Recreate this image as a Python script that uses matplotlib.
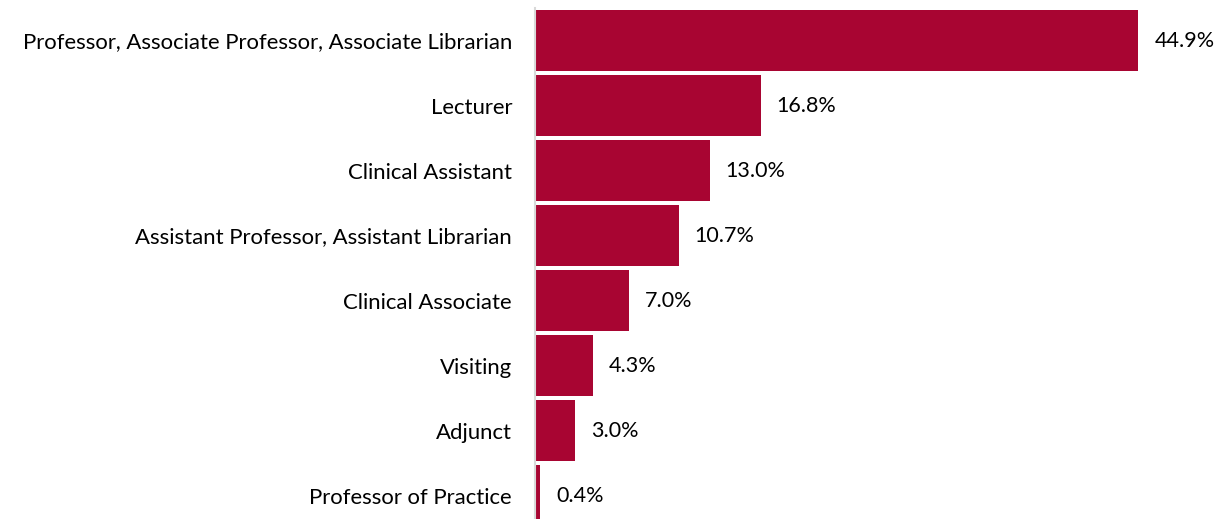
import matplotlib.pyplot as plt

categories = ['Professor, Associate Professor, Associate Librarian', 'Lecturer',
              'Clinical Assistant', 'Assistant Professor, Assistant Librarian',
              'Clinical Associate', 'Visiting', 'Adjunct', 'Professor of Practice']
values = [44.9, 16.8, 13.0, 10.7, 7.0, 4.3, 3.0, 0.4]

plt.rcParams['font.family'] = ['Lato', 'DejaVu Sans']

fig = plt.figure(figsize=(12.15, 5.19), dpi=100)
ax = fig.add_axes([535 / 1215, 0, 672 / 1215, 1 - 8 / 519])

pos = list(range(len(values)))
ax.barh(pos, values, height=0.95, color='#A80532')

for y, v in zip(pos, values):
    ax.annotate('%.1f%%' % v, (v, y), xytext=(11.5, 0), textcoords='offset points',
                va='center', ha='left', fontsize=15.5, color='black')

ax.set_xlim(0, 50)
ax.set_ylim(7.36, -0.5)
ax.set_yticks(pos)
ax.set_yticklabels(categories, fontsize=15.9)
ax.tick_params(axis='y', length=0, pad=16.5)
ax.set_xticks([])
for s in ['top', 'right', 'bottom']:
    ax.spines[s].set_visible(False)
ax.spines['left'].set_color('#d9d9d9')
ax.spines['left'].set_linewidth(1.5)

fig.savefig('out.png', dpi=100)
